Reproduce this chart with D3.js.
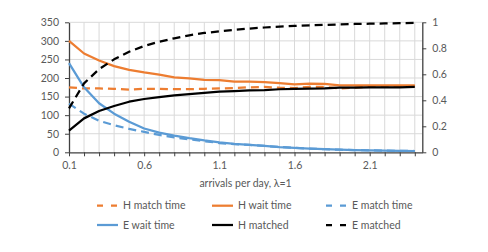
<!DOCTYPE html>
<html><head><meta charset="utf-8">
<script src="https://cdn.jsdelivr.net/npm/d3@7"></script>
<style>
html,body{margin:0;padding:0;background:#fff;}
svg{display:block;}
text{font-family:Lato, "Liberation Sans", sans-serif;fill:#595959;}
</style></head>
<body>
<svg id="chart" width="488" height="252"></svg>
<script>
// ---- data ----
const arrivals = [0.1,0.2,0.3,0.4,0.5,0.6,0.7,0.8,0.9,1.0,1.1,1.2,1.3,1.4,1.5,1.6,1.7,1.8,1.9,2.0,2.1,2.2,2.3,2.4];
const hMatchTime = [175,172,172,171,169,171,171,170,170,171,172,173,175,176,174,173,176,176,172,174,177,176,177,178];
const hWaitTime  = [300,266,247,232,222,215,209,202,199,195,194,190,190,189,186,183,185,184,180,180,180,180,180,180];
const eMatchTime = [131,104,85,73,63,55,47,40,35,30,25,22,20,17,14.5,12,10,8.5,7,6,5,4.5,4,3.5];
const eWaitTime  = [240,175,132,104,82,64,53,45,38,32,27,23,20,17,14,12,10,8.5,7,6,5,4.5,4,3.5];
const hMatched   = [0.166,0.261,0.318,0.356,0.389,0.41,0.425,0.438,0.448,0.458,0.466,0.471,0.476,0.478,0.485,0.488,0.49,0.492,0.497,0.497,0.5,0.5,0.5,0.503];
const eMatched   = [0.338,0.53,0.64,0.715,0.774,0.818,0.851,0.877,0.9,0.918,0.93,0.941,0.952,0.96,0.967,0.972,0.976,0.98,0.984,0.987,0.989,0.991,0.993,0.995];
const xTickLabels = [0.1,0.6,1.1,1.6,2.1];
const leftTicks = [0,50,100,150,200,250,300,350];
const rightTicks = [0,0.2,0.4,0.6,0.8,1];
const xTitle = "arrivals per day, λ=1";

const series = [
  {name:"H match time", values:hMatchTime, axis:"L", color:"#ED7D31", dash:true},
  {name:"H wait time",  values:hWaitTime,  axis:"L", color:"#ED7D31", dash:false},
  {name:"E match time", values:eMatchTime, axis:"L", color:"#5B9BD5", dash:true},
  {name:"E wait time",  values:eWaitTime,  axis:"L", color:"#5B9BD5", dash:false},
  {name:"H matched",    values:hMatched,   axis:"R", color:"#000000", dash:false},
  {name:"E matched",    values:eMatched,   axis:"R", color:"#000000", dash:true}
];

// ---- layout ----
const svg = d3.select("#chart");
const L = 69, R = 422.3, T = 22.3, B = 152.3;
const x = d3.scaleLinear().domain([0.1, 2.45]).range([L, R]);
const yL = d3.scaleLinear().domain([0, 350]).range([B, T]);
const yR = d3.scaleLinear().domain([0, 1]).range([B, T]);
const axisColor = "#404040", gridColor = "#D9D9D9";

// gridlines
const g = svg.append("g");
g.selectAll("line.v").data(arrivals.slice(1)).enter().append("line")
  .attr("x1", d => x(d)).attr("x2", d => x(d)).attr("y1", T).attr("y2", B)
  .attr("stroke", gridColor).attr("stroke-width", 1);
g.selectAll("line.h").data(leftTicks.slice(1)).enter().append("line")
  .attr("x1", L).attr("x2", R).attr("y1", d => yL(d)).attr("y2", d => yL(d))
  .attr("stroke", gridColor).attr("stroke-width", 1);

// axes
const fs = "10.5px";
const xAxis = svg.append("g").attr("transform", `translate(0,${B})`)
  .call(d3.axisBottom(x).tickValues(arrivals).tickSize(4).tickSizeOuter(0)
        .tickFormat(d => xTickLabels.some(v => Math.abs(v - d) < 1e-9) ? d3.format(".1f")(d) : ""));
xAxis.select(".domain").attr("stroke", axisColor);
xAxis.selectAll(".tick line").attr("stroke", axisColor);
xAxis.selectAll(".tick text").attr("font-size", fs).attr("dy", "0.95em").attr("fill", "#595959");

const lAxis = svg.append("g").attr("transform", `translate(${L},0)`)
  .call(d3.axisLeft(yL).tickValues(leftTicks).tickSize(4).tickSizeOuter(0).tickPadding(6));
lAxis.select(".domain").attr("stroke", axisColor);
lAxis.selectAll(".tick line").attr("stroke", axisColor);
lAxis.selectAll(".tick text").attr("font-size", fs).attr("fill", "#595959");

const rAxis = svg.append("g").attr("transform", `translate(${R},0)`)
  .call(d3.axisRight(yR).tickValues(rightTicks).tickSize(4).tickSizeOuter(0).tickPadding(6)
        .tickFormat(d => d3.format("")(+d.toFixed(1))));
rAxis.select(".domain").attr("stroke", axisColor);
rAxis.selectAll(".tick line").attr("stroke", axisColor);
rAxis.selectAll(".tick text").attr("font-size", fs).attr("fill", "#595959");
svg.selectAll(".domain").attr("stroke-width", 1.3);

// lines
const dashArr = "8,5";
series.forEach(s => {
  const ys = s.axis === "L" ? yL : yR;
  const line = d3.line().x((d, i) => x(arrivals[i])).y(d => ys(d));
  svg.append("path").datum(s.values)
    .attr("d", line).attr("fill", "none").attr("stroke", s.color)
    .attr("stroke-width", 2.25).attr("stroke-linejoin", "round")
    .attr("stroke-dasharray", s.dash ? dashArr : null);
});

// x title
svg.append("text").attr("x", 245.5).attr("y", 187).attr("text-anchor", "middle")
  .attr("font-size", fs).text(xTitle);

// legend
const colX = [97, 212, 326], rowY = [205.7, 225];
series.forEach((s, i) => {
  const cx = colX[i % 3], cy = rowY[Math.floor(i / 3)];
  svg.append("line").attr("x1", cx).attr("x2", cx + 21).attr("y1", cy).attr("y2", cy)
    .attr("stroke", s.color).attr("stroke-width", 2.25)
    .attr("stroke-dasharray", s.dash ? "6,8" : null);
  svg.append("text").attr("x", cx + 26).attr("y", cy + 3.6).attr("font-size", fs).text(s.name);
});
</script>
</body></html>
